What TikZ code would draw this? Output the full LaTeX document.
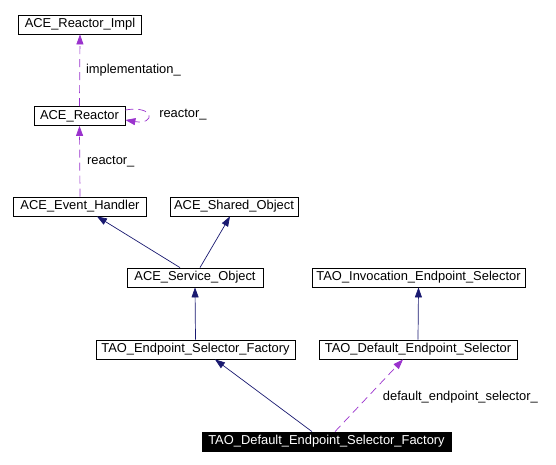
\documentclass[tikz,border=0pt]{standalone}
\usepackage{fontspec}
\setmainfont{Liberation Sans}
\usepackage{xcolor}
\usetikzlibrary{arrows.meta,positioning}
\definecolor{navyline}{HTML}{191970}
\definecolor{orchidline}{HTML}{9A32CD}

\begin{document}
\begin{tikzpicture}[x=1pt,y=-1pt,
  font=\fontsize{12.9}{15}\selectfont,
  cls/.style={rectangle,draw,line width=0.8pt,minimum height=19pt,inner sep=3pt},
  inherit/.style={navyline,line width=0.7pt,-{Triangle[length=10pt,width=7pt]}},
  usage/.style={orchidline,line width=0.7pt,dash pattern=on 8pt off 5pt,-{Triangle[length=10pt,width=7pt]}},
  lbl/.style={inner sep=2pt,text=black}]
\useasboundingbox (0,0) rectangle (556,465);

% ACE reactor part
\node[cls,minimum width=123pt] (impl) at (80,24.5) {ACE\_Reactor\_Impl};
\node[cls,minimum width=91pt] (reactor) at (79.5,116) {ACE\_Reactor};
\draw[usage] (reactor.north) -- (impl.south) node[lbl,right=4pt,midway] {implementation\_};
\draw[usage] ([yshift=6pt]reactor.east) .. controls +(30pt,5pt) and +(30pt,-5pt) .. ([yshift=-4pt]reactor.east)
  node[lbl,right=9pt,pos=0.5] {reactor\_};

% ACE base classes
\node[cls,minimum width=133pt] (evh) at (80,206.5) {ACE\_Event\_Handler};
\node[cls,minimum width=128pt] (sho) at (234,206.5) {ACE\_Shared\_Object};
\node[cls,minimum width=136pt] (svc) at (195,277.5) {ACE\_Service\_Object};
\draw[usage] (evh.north) -- (reactor.south) node[lbl,right=5pt,midway] {reactor\_};
\draw[inherit] ([xshift=-15pt]svc.north) -- ([xshift=17pt]evh.south);
\draw[inherit] ([xshift=5pt]svc.north) -- ([xshift=-4pt]sho.south);

% TAO classes
\node[cls,minimum width=213pt] (ies) at (418.5,277.5) {TAO\_Invocation\_Endpoint\_Selector};
\node[cls,minimum width=199pt] (esf) at (195.5,349.5) {TAO\_Endpoint\_Selector\_Factory};
\node[cls,minimum width=198pt] (des) at (418,349.5) {TAO\_Default\_Endpoint\_Selector};
\node[cls,fill=black,text=white,minimum width=249pt] (dfac) at (326.5,441.5) {TAO\_Default\_Endpoint\_Selector\_Factory};
\draw[inherit] (esf.north) -- (svc.south);
\draw[inherit] (des.north) -- (ies.south);
\draw[inherit] ([xshift=-14.5pt]dfac.north) -- ([xshift=19.5pt]esf.south);
\draw[usage] ([xshift=8.5pt]dfac.north) -- ([xshift=-15pt]des.south)
  node[lbl,right=13pt,pos=0.48] {default\_endpoint\_selector\_};
\end{tikzpicture}
\end{document}
